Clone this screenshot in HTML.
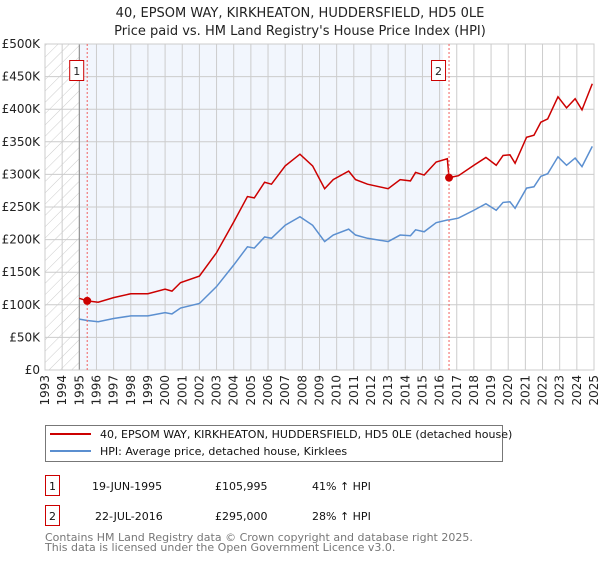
<!DOCTYPE html>
<html><head><meta charset="utf-8"><style>
body{margin:0;background:#fff;font-family:"DejaVu Sans","Liberation Sans",sans-serif;}
svg text{font-family:"DejaVu Sans","Liberation Sans",sans-serif;}
</style></head><body>
<svg id="chart" width="600" height="560" xmlns="http://www.w3.org/2000/svg">
<text x="300" y="17" text-anchor="middle" font-size="13" fill="#222">40, EPSOM WAY, KIRKHEATON, HUDDERSFIELD, HD5 0LE</text>
<text x="300" y="35" text-anchor="middle" font-size="13" fill="#222">Price paid vs. HM Land Registry's House Price Index (HPI)</text>
<defs><pattern id="hatch" patternUnits="userSpaceOnUse" width="8" height="8" patternTransform="rotate(45)"><line x1="0" y1="0" x2="0" y2="8" stroke="#ccc" stroke-width="1"/></pattern></defs>
<g id="grid"></g>
<g id="axes"></g>
<g id="series"></g>
<g>
<rect x="45.5" y="425.5" width="457" height="36" fill="#fff" stroke="#777"/>
<line x1="50" y1="434" x2="91" y2="434" stroke="#cc0000" stroke-width="2"/>
<text x="100" y="438" font-size="11" fill="#111">40, EPSOM WAY, KIRKHEATON, HUDDERSFIELD, HD5 0LE (detached house)</text>
<line x1="50" y1="451" x2="91" y2="451" stroke="#5b8fd0" stroke-width="2"/>
<text x="100" y="455" font-size="11" fill="#111">HPI: Average price, detached house, Kirklees</text>
</g>
<g font-size="11" fill="#111">
<rect x="45.5" y="475.5" width="14" height="20" fill="#fff" stroke="#cc0000"/>
<text x="52.5" y="490" text-anchor="middle">1</text>
<text x="92" y="490">19-JUN-1995</text>
<text x="215" y="490">£105,995</text>
<text x="312" y="490">41% ↑ HPI</text>
<rect x="45.5" y="505.5" width="14" height="20" fill="#fff" stroke="#cc0000"/>
<text x="52.5" y="520" text-anchor="middle">2</text>
<text x="95" y="520">22-JUL-2016</text>
<text x="215" y="520">£295,000</text>
<text x="312" y="520">28% ↑ HPI</text>
</g>
<text x="45" y="541" font-size="11" fill="#777">Contains HM Land Registry data © Crown copyright and database right 2025.</text>
<text x="45" y="551" font-size="11" fill="#777">This data is licensed under the Open Government Licence v3.0.</text>
</svg>
<script>
const dates=[1995.0,1995.46,1996.1,1997,1998,1999,2000,2000.4,2000.9,2002,2003,2004,2004.8,2005.2,2005.8,2006.2,2007,2007.86,2008.6,2009.3,2009.8,2010.7,2011.1,2011.8,2013.0,2013.7,2014.3,2014.6,2015.1,2015.8,2016.45,2016.55,2017.1,2018,2018.7,2019.3,2019.7,2020.1,2020.4,2021.07,2021.5,2021.9,2022.3,2022.9,2023.4,2023.9,2024.3,2024.9];
const hpiValues=[78,76,74,79,83,83,88,86,95,102,128,161,189,187,204,202,222,235,222,197,207,216,207,202,197,207,206,215,212,226,230,230,233,245,255,245,257,258,248,279,281,297,301,327,314,325,312,343];
const priceValues=[110,106,104,111,117,117,124,121,134,144,180,227,266,264,288,285,313,331,313,278,292,305,292,285,278,292,290,303,299,319,324,295,298,314,326,314,329,330,317,357,360,380,385,419,402,416,399,439];
const saleDates=[1995.46,2016.55];
const salePrices=[106,295];
const saleLabels=["1","2"];
const yTicks=[0,50,100,150,200,250,300,350,400,450,500];
const yTickLabels=["£0","£50K","£100K","£150K","£200K","£250K","£300K","£350K","£400K","£450K","£500K"];
const xYears=[];for(let y=1993;y<=2025;y++)xYears.push(y);
const X0=45,X1=594,Y0=370,Y1=44;
const x=t=>X0+(t-1993)/(2025-1993)*(X1-X0);
const y=v=>Y0-v/500*(Y0-Y1);
const NS="http://www.w3.org/2000/svg";
function mk(tag,attrs,parent){const e=document.createElementNS(NS,tag);for(const k in attrs)e.setAttribute(k,attrs[k]);parent.appendChild(e);return e;}
const grid=document.getElementById('grid'),axes=document.getElementById('axes'),series=document.getElementById('series');
const hatch=mk('rect',{x:X0,y:Y1,width:x(1995)-X0,height:Y0-Y1,fill:'url(#hatch)'},grid);


const shade=mk('rect',{x:x(1995),y:Y1,width:x(2016.2)-x(1995),height:Y0-Y1,fill:'#f2f6fd'},grid);


xYears.forEach(yr=>{
 const l=mk('line',{x1:x(yr),x2:x(yr),y1:Y1,y2:Y0,stroke:'#ccc','stroke-width':1},grid);
 
 
 const t=mk('text',{transform:`translate(${x(yr)+4},${Y0+5}) rotate(-90)`,'text-anchor':'end','font-size':12,fill:'#222'},axes);
 t.textContent=yr;
 
 
});
yTicks.forEach((v,i)=>{
 const l=mk('line',{x1:X0,x2:X1,y1:y(v),y2:y(v),stroke:'#ccc','stroke-width':1},grid);
 
 
 const t=mk('text',{x:X0-5,y:y(v)+4,'text-anchor':'end','font-size':12,fill:'#222'},axes);
 t.textContent=yTickLabels[i];
 
 
});
const bl=mk('line',{x1:x(1995),x2:x(1995),y1:Y1,y2:Y0,stroke:'#888','stroke-width':1},grid);


const hp=mk('polyline',{points:dates.map((d,i)=>x(d)+','+y(hpiValues[i])).join(' '),fill:'none',stroke:'#5b8fd0','stroke-width':1.5},series);


const pp=mk('polyline',{points:dates.map((d,i)=>x(d)+','+y(priceValues[i])).join(' '),fill:'none',stroke:'#cc0000','stroke-width':1.5},series);


saleDates.forEach((d,i)=>{
 const vl=mk('line',{x1:x(d),x2:x(d),y1:Y1,y2:Y0,stroke:'#f06060','stroke-width':1,'stroke-dasharray':'2,2'},series);
 
 
 const m=mk('circle',{cx:x(d),cy:y(salePrices[i]),r:4,fill:'#cc0000'},series);
 
 
 const b=mk('rect',{x:x(d)-17.5,y:60.5,width:14,height:20,fill:'#fff',stroke:'#cc0000'},series);
 
 
 const t=mk('text',{x:x(d)-10.5,y:75,'text-anchor':'middle','font-size':11,fill:'#222'},series);
 t.textContent=saleLabels[i];
 
 
});
const fr=mk('rect',{x:X0,y:Y1,width:X1-X0,height:Y0-Y1,fill:'none',stroke:'#ccc'},axes);


</script>
</body></html>
